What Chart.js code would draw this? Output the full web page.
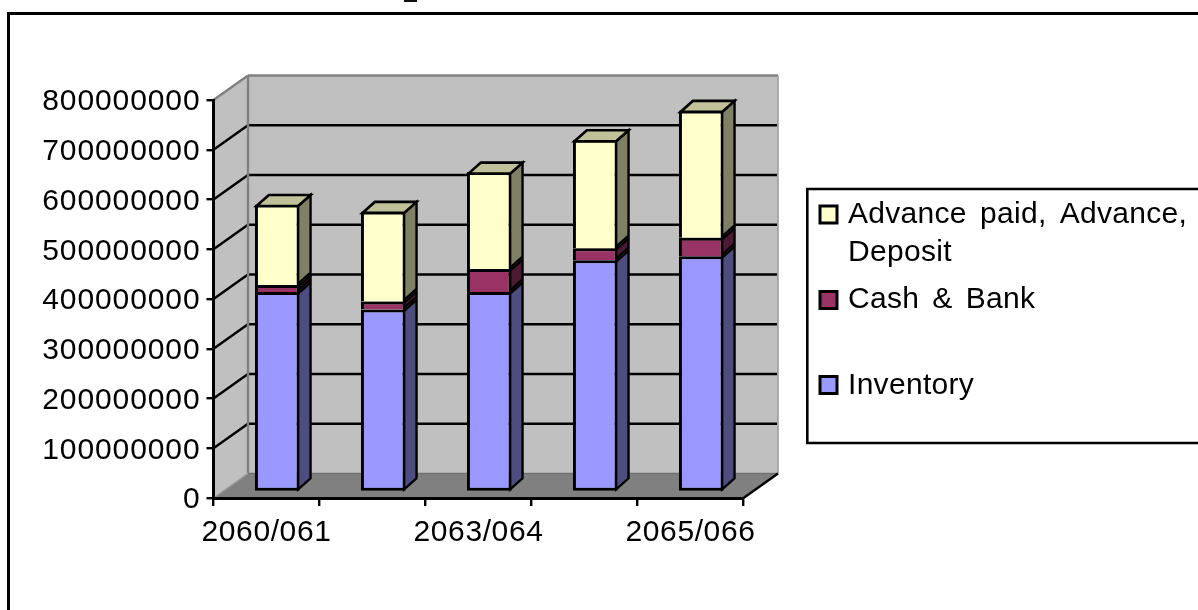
<!DOCTYPE html>
<html>
<head>
<meta charset="utf-8">
<style>html,body{margin:0;padding:0;background:#fff;overflow:hidden}canvas{display:block}</style>
<script src="https://cdn.jsdelivr.net/npm/chart.js@4/dist/chart.umd.min.js"></script>
</head>
<body>
<canvas id="c" width="1198" height="610"></canvas>
<script>
const categories = ['2060/061', '2061/062', '2063/064', '2064/065', '2065/066'];
const inventory = [402000000, 367000000, 402000000, 466000000, 474000000];
const cashBank = [14000000, 16000000, 46000000, 24000000, 37000000];
const advance = [162000000, 181000000, 195000000, 218000000, 256000000];
const seriesNames = ['Inventory', 'Cash & Bank', 'Advance paid, Advance, Deposit'];
const legendLines = [['Inventory'], ['Cash & Bank'], ['Advance paid, Advance,', 'Deposit']];

const FONT = '"Liberation Sans", Arial, sans-serif';
const depthX = 34.5, depthY = -24.5;
const barShiftX = 10.8, barShiftY = -6, sideX = 12.4, sideY = -11;
const STROKE = 3;

function poly(ctx, pts, fill, stroke, lw) {
  ctx.beginPath();
  pts.forEach((p, i) => i ? ctx.lineTo(p[0], p[1]) : ctx.moveTo(p[0], p[1]));
  ctx.closePath();
  if (fill) { ctx.fillStyle = fill; ctx.fill(); }
  if (stroke) { ctx.strokeStyle = stroke; ctx.lineWidth = lw; ctx.lineJoin = 'miter'; ctx.miterLimit = 3; ctx.stroke(); }
}
function line(ctx, x1, y1, x2, y2, color, lw) {
  ctx.beginPath(); ctx.moveTo(x1, y1); ctx.lineTo(x2, y2);
  ctx.strokeStyle = color; ctx.lineWidth = lw; ctx.stroke();
}

const scene3d = {
  id: 'scene3d',
  beforeDraw(chart) {
    const {ctx, chartArea: a, scales: {y}} = chart;
    ['x', 'y'].forEach(k => {
      const s = chart.scales[k];
      if (!s._spaced) {
        const orig = s.drawLabels.bind(s);
        const sp = k === 'y' ? '0.9px' : '0.6px';
        const nudge = k === 'y' ? 2 : 0;
        s.drawLabels = function (area) {
          ctx.save(); ctx.letterSpacing = sp; ctx.translate(0, nudge); orig(area); ctx.restore();
        };
        s._spaced = true;
      }
    });
    ctx.save();
    ctx.fillStyle = '#fff';
    ctx.fillRect(0, 0, chart.width, chart.height);
    // outer frame, cut by the picture edge, and the clipped title remnant
    ctx.strokeStyle = '#000'; ctx.lineWidth = 3; ctx.lineJoin = 'miter';
    ctx.beginPath(); ctx.moveTo(8.5, 612); ctx.lineTo(8.5, 13.5); ctx.lineTo(1200, 13.5); ctx.stroke();
    ctx.fillStyle = '#111'; ctx.fillRect(404, 0, 13, 2);
    // walls and floor
    const bl = a.left + depthX, br = a.right + depthX, bt = a.top + depthY, bb = a.bottom + depthY;
    poly(ctx, [[a.left, a.top], [bl, bt], [bl, bb], [a.left, a.bottom]], '#c0c0c0');
    poly(ctx, [[bl, bt], [br, bt], [br, bb], [bl, bb]], '#c0c0c0');
    poly(ctx, [[a.left, a.bottom], [bl, bb], [br, bb], [a.right, a.bottom]], '#808080');
    y.ticks.forEach(t => {
      if (t.value === 0 || t.value === y.max) return;
      const py = y.getPixelForValue(t.value);
      ctx.beginPath();
      ctx.moveTo(a.left, py); ctx.lineTo(bl, py + depthY); ctx.lineTo(br - 1, py + depthY);
      ctx.strokeStyle = '#000'; ctx.lineWidth = 2.4; ctx.stroke();
    });
    line(ctx, a.left, a.top, bl, bt, '#808080', 2.4);
    line(ctx, bl, bt, br, bt, '#808080', 2.4);
    line(ctx, bl, bt, bl, bb, '#808080', 2.4);
    line(ctx, br, bt, br, bb, '#999999', 1.5);
    line(ctx, bl, bb, br, bb, '#707070', 1.5);
    line(ctx, a.left, a.bottom, bl, bb, '#9a9a9a', 1.5);
    line(ctx, a.right, a.bottom, br, bb, '#000', 2.4);
    ctx.restore();
  },
  beforeDatasetsDraw(chart) {
    chart.ctx.save();
    chart.ctx.translate(barShiftX, barShiftY);
  },
  afterDatasetsDraw(chart) {
    const ctx = chart.ctx;
    const metas = chart.getSortedVisibleDatasetMetas();
    metas.forEach((m, di) => {
      const ds = chart.data.datasets[m.index];
      m.data.forEach(bar => {
        const r = bar.x + bar.width / 2 - STROKE / 2, l = bar.x - bar.width / 2 + STROKE / 2;
        const top = bar.y + STROKE / 2, base = bar.base - STROKE / 2;
        poly(ctx, [[r, top], [r + sideX, top + sideY], [r + sideX, base + sideY], [r, base]], ds.sideColor, '#000', 2.4);
        if (di === metas.length - 1) {
          poly(ctx, [[l, top], [l + sideX, top + sideY], [r + sideX, top + sideY], [r, top]], ds.topColor, '#000', 2.6);
        }
      });
    });
    ctx.restore();
  },
  afterDraw(chart) {
    const ctx = chart.ctx;
    ctx.save();
    // legend
    ctx.strokeStyle = '#000'; ctx.lineWidth = 2.6;
    ctx.beginPath(); ctx.moveTo(1200, 189); ctx.lineTo(807.3, 189); ctx.lineTo(807.3, 443); ctx.lineTo(1200, 443); ctx.stroke();
    ctx.font = '30px ' + FONT;
    ctx.fillStyle = '#000'; ctx.textAlign = 'left'; ctx.textBaseline = 'alphabetic';
    ctx.letterSpacing = '0.3px'; ctx.wordSpacing = '4.5px';
    const rows = [{i: 2, y: 223, swatch: 206}, {i: 1, y: 308, swatch: 291.5}, {i: 0, y: 394, swatch: 376.5}];
    rows.forEach(row => {
      const ds = chart.data.datasets[row.i];
      ctx.fillStyle = ds.backgroundColor;
      ctx.strokeStyle = '#000'; ctx.lineWidth = 3;
      ctx.fillRect(820, row.swatch, 17, 17);
      ctx.strokeRect(820, row.swatch, 17, 17);
      ctx.fillStyle = '#000';
      legendLines[row.i].forEach((t, k) => ctx.fillText(t, 848, row.y + k * 37.5));
    });
    ctx.restore();
  }
};

function bars(label, data, fill, side, top, bottomBorder) {
  return {
    label, data, backgroundColor: fill, sideColor: side, topColor: top,
    borderColor: '#000',
    borderWidth: {top: STROKE, left: STROKE, right: STROKE, bottom: bottomBorder ? STROKE : 0},
    borderSkipped: false, clip: false,
    barPercentage: 44.7 / 106, categoryPercentage: 1
  };
}

new Chart(document.getElementById('c'), {
  type: 'bar',
  data: {
    labels: categories,
    datasets: [
      bars(seriesNames[0], inventory, '#9999ff', '#4d4d80', '#7373bf', true),
      bars(seriesNames[1], cashBank, '#993366', '#4d1a33', '#73264d', false),
      bars(seriesNames[2], advance, '#ffffcc', '#808066', '#c0c099', false)
    ]
  },
  plugins: [scene3d],
  options: {
    responsive: false,
    animation: false,
    layout: {padding: {top: 100, right: 454.5, left: 0, bottom: 0}},
    plugins: {legend: {display: false}, title: {display: false}, tooltip: {enabled: false}},
    scales: {
      x: {
        stacked: true,
        offset: true,
        afterFit(s) { s.height = 112; },
        grid: {offset: true, drawOnChartArea: false, drawTicks: true, tickLength: 8, color: '#000', lineWidth: 2.4},
        border: {display: true, color: '#000', width: 3},
        ticks: {
          autoSkip: false, maxRotation: 0, minRotation: 0, padding: 9, color: '#000',
          font: {family: FONT, size: 30},
          callback(v, i) { return i % 2 === 0 ? this.getLabelForValue(v) : ''; }
        }
      },
      y: {
        stacked: true,
        min: 0, max: 800000000,
        afterFit(s) { s.width = 213.5; },
        grid: {drawOnChartArea: false, drawTicks: true, tickLength: 7, color: '#000', lineWidth: 2.4},
        border: {display: true, color: '#000', width: 3},
        ticks: {
          stepSize: 100000000, padding: 6, color: '#000',
          font: {family: FONT, size: 30},
          callback(v) { return String(v); }
        }
      }
    }
  }
});
</script>
</body>
</html>
